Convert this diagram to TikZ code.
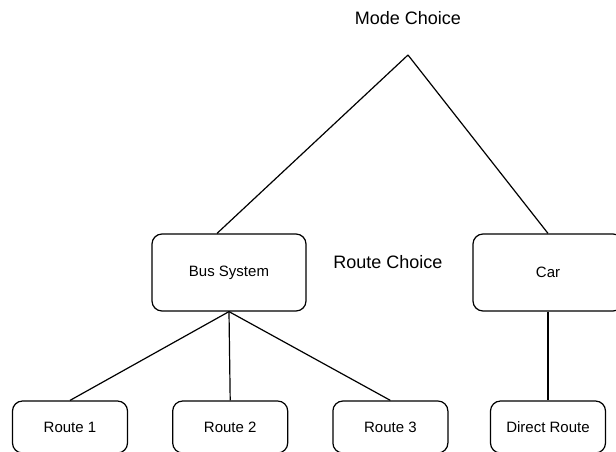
\documentclass[tikz,border=0pt]{standalone}
\usepackage{fontspec}
\setmainfont{Liberation Sans}
\usetikzlibrary{positioning}
\begin{document}
\begin{tikzpicture}[x=1pt, y=-1pt, line width=1.2pt,
    box/.style={draw, rounded corners=10pt, minimum width=154pt, minimum height=77pt, font=\fontsize{15}{18}\selectfont},
    routebox/.style={draw, rounded corners=10pt, minimum width=115pt, minimum height=52pt, font=\fontsize{15}{18}\selectfont},
    heading/.style={font=\fontsize{18}{22}\selectfont}]
    \useasboundingbox (0,0) rectangle (616,451);
    \node (mode) [heading] at (408,18) {Mode Choice};
    \coordinate (top) at (408,55);
    \node (bus) [box] at (229,272.5) {Bus System};
    \node (car) [box, minimum width=150pt] at (548,272.5) {Car};
    \node (routechoice) [heading] at (388,262) {Route Choice};
    \node (r1) [routebox] at (70,427) {Route 1};
    \node (r2) [routebox, right=44pt of r1] {Route 2};
    \node (r3) [routebox, right=44pt of r2] {Route 3};
    \node (direct) [routebox] at (car |- r1) {Direct Route};
    \draw (top) -- ([xshift=-12pt]bus.north);
    \draw (top) -- (car.north);
    \draw (bus.south) -- (r1.north);
    \draw (bus.south) -- (r2.north);
    \draw (bus.south) -- (r3.north);
    \draw (car.south) -- (direct.north);
  \end{tikzpicture}
\end{document}
